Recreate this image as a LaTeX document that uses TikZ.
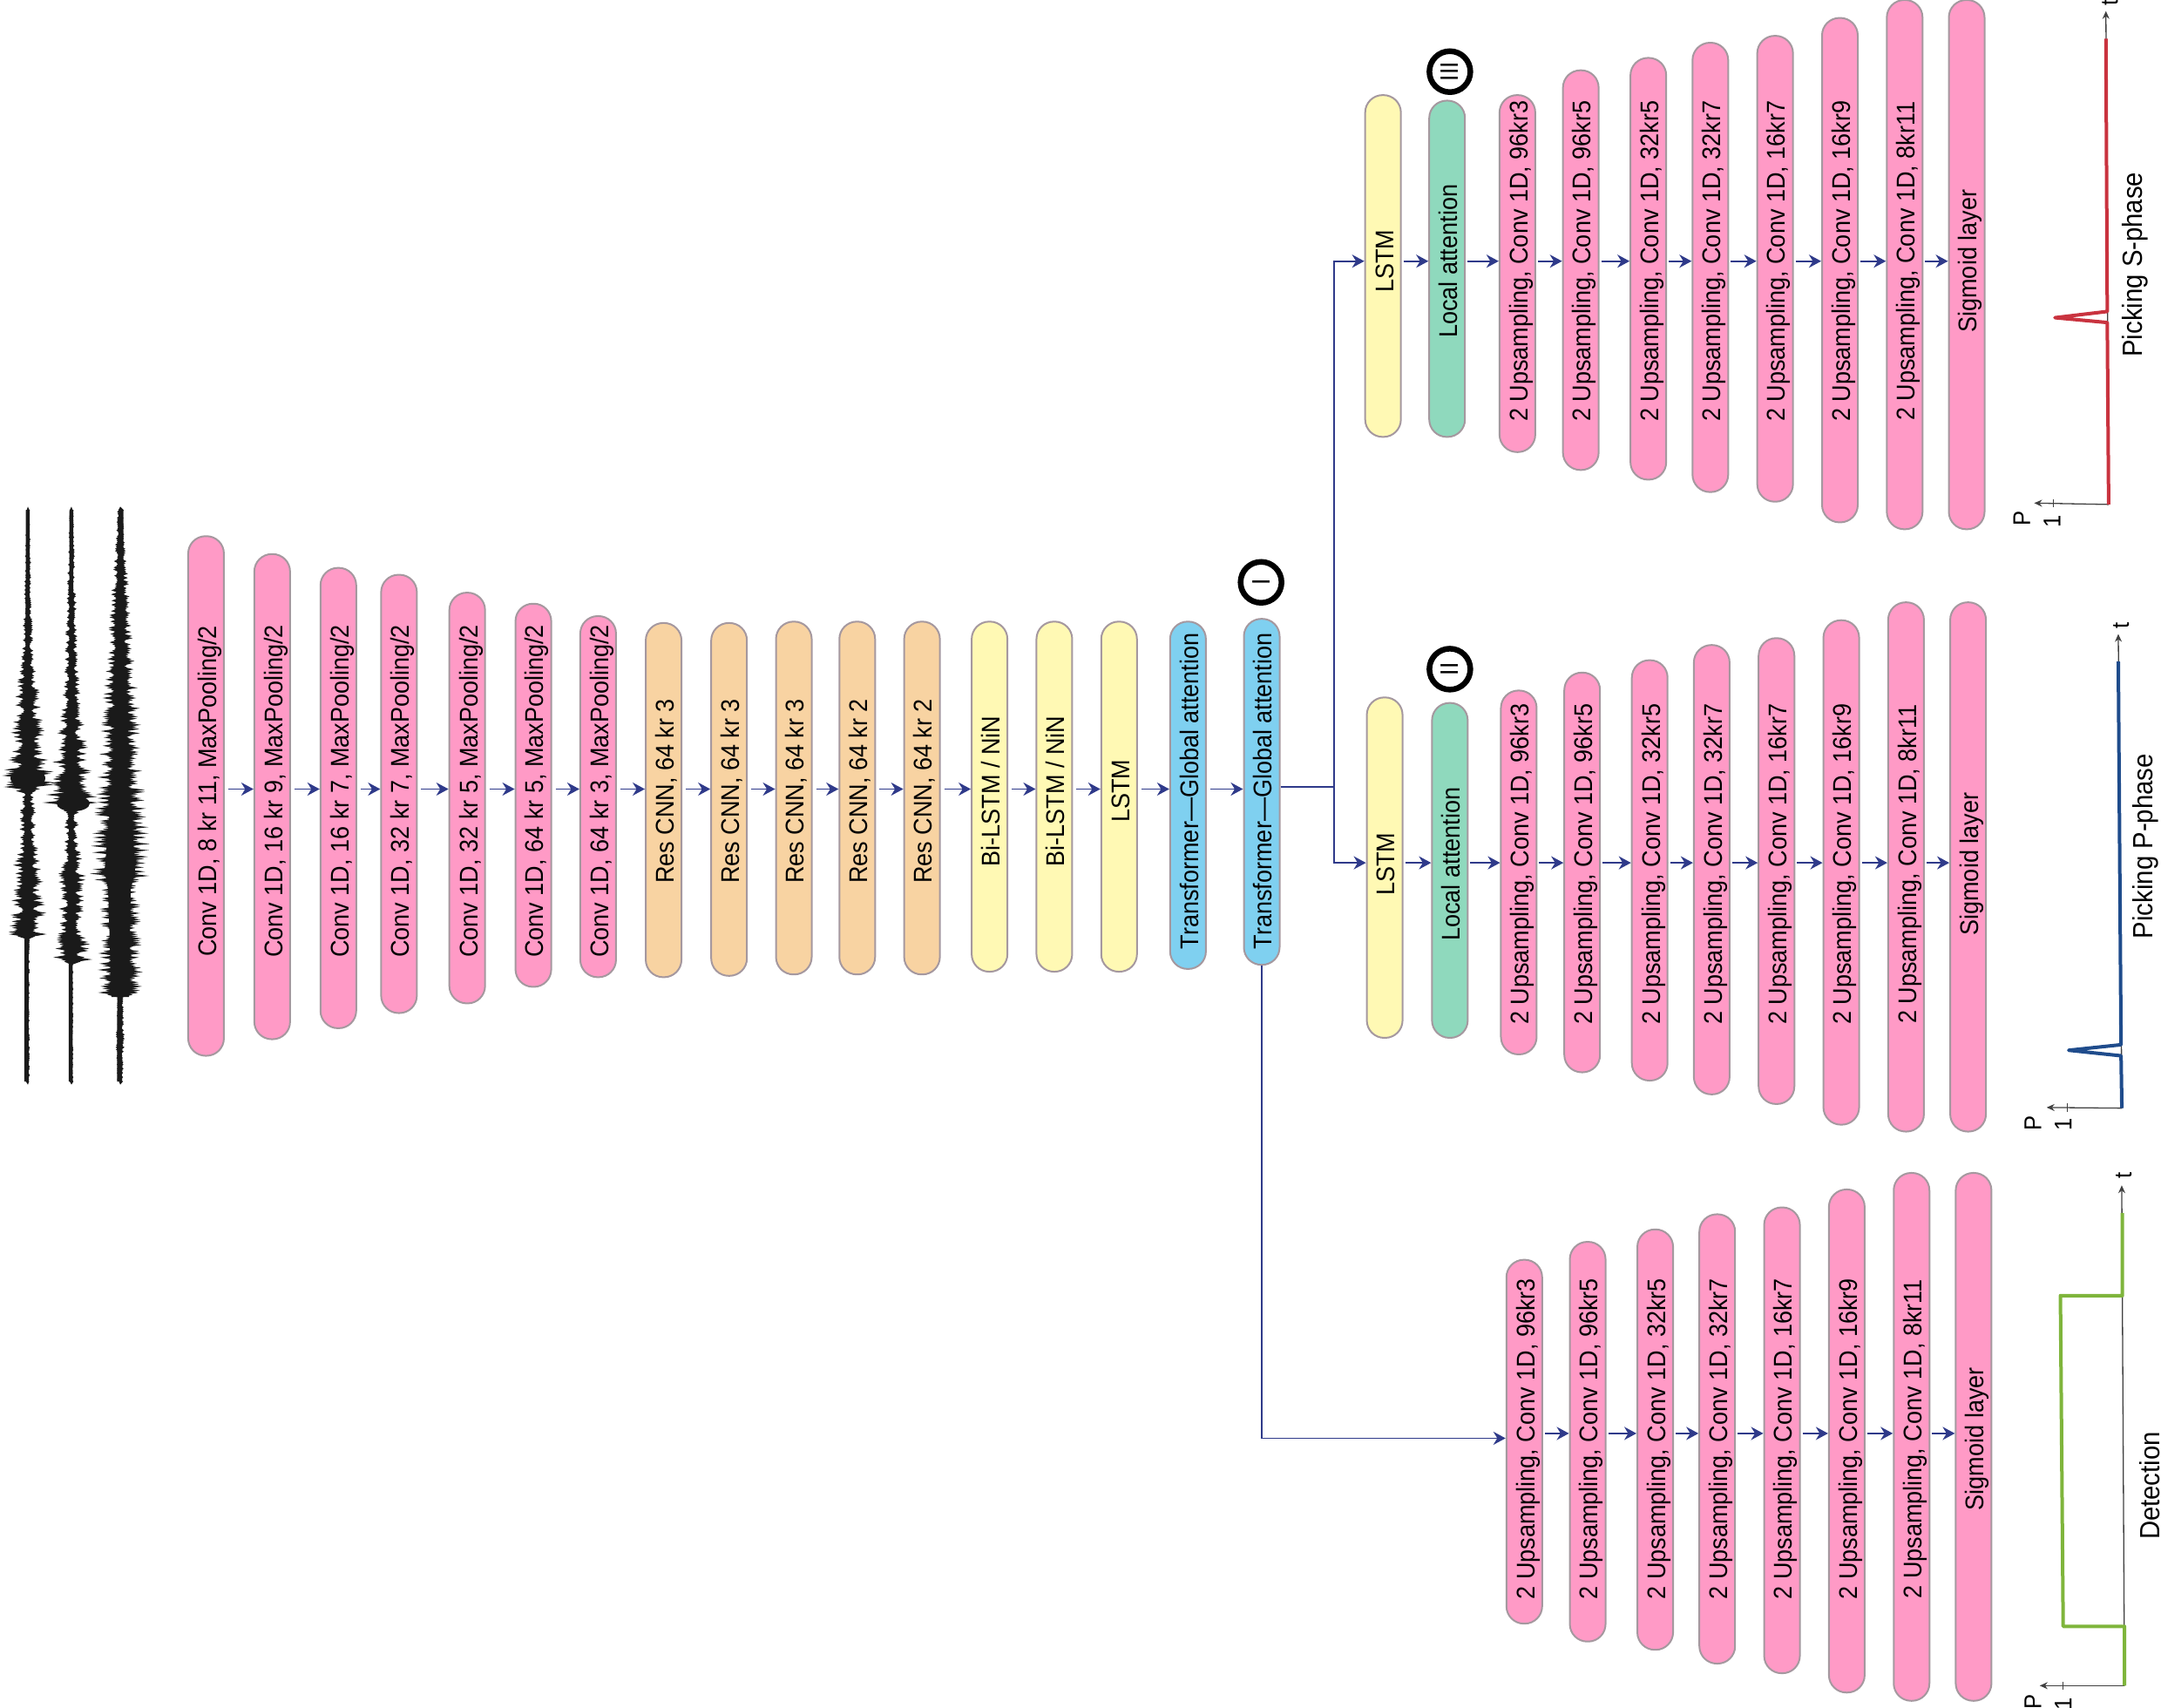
\documentclass[tikz,border=0pt]{standalone}
\usepackage{fontspec}
\setmainfont{Liberation Sans}[FakeStretch=0.92]
\usetikzlibrary{arrows.meta,calc}
\definecolor{cpink}{HTML}{FF9AC6}
\definecolor{corange}{HTML}{F8D3A2}
\definecolor{cyellow}{HTML}{FFF9B4}
\definecolor{cblue}{HTML}{7FD0F0}
\definecolor{cgreen}{HTML}{8FD9BD}
\definecolor{cborder}{HTML}{A5989F}
\definecolor{cconn}{HTML}{2F3A8A}
\definecolor{cgrn}{HTML}{7FB53C}
\definecolor{cblu}{HTML}{1F4C8C}
\definecolor{cred}{HTML}{C9333F}
\definecolor{cwave}{HTML}{1A1A1A}
\tikzset{
  capsulebox/.style={draw=cborder,line width=2bp,rounded corners=20bp,minimum width=41bp,inner sep=0pt,rectangle},
  capsuletext/.style={rotate=90,inner sep=0pt,text height=20.9bp,text depth=6.1bp,font=\fontsize{29.5}{32}\selectfont},
  conn/.style={draw=cconn,line width=1.9bp,-{Stealth[length=14bp,width=15bp,inset=4.5bp]}},
  connplain/.style={draw=cconn,line width=1.9bp},
  tag/.style={circle,draw=black,line width=6.5bp,minimum size=47bp,inner sep=0pt,fill=white},
  tagtext/.style={rotate=90,font=\fontsize{29}{32}\selectfont,inner sep=0pt},
  plotaxis/.style={draw=black!75,line width=1.3bp,-{Stealth[length=9bp,width=8bp]}},
  plotlabel/.style={rotate=90,inner sep=0pt,font=\fontsize{32}{36}\selectfont},
  axislabel/.style={rotate=90,inner sep=0pt,font=\fontsize{28}{30}\selectfont},
  plotcurve/.style={line width=4bp,line join=round},
}
\newcommand\capsule[7]{%
  \pgfmathsetmacro\hh{(#4-#3)*1.5816}%
  \node[capsulebox,fill=#5,minimum height=\hh bp] (#1) at (#2,{(#3+#4)/2}) {};
  \node[capsuletext] (#1-t) at (#2+2.8,#6) {#7};
}
\newcommand\wave[3]{%
  \foreach \ya/\wa/\yb/\wb in {#3} {
    \pgfmathtruncatemacro\nn{max(1,round((\yb-\ya)/2.4))}
    \foreach \ii in {0,...,\nn} {
      \pgfmathsetmacro\ff{\ii/\nn}
      \pgfmathsetmacro\yy{\ya+(\yb-\ya)*\ff}
      \pgfmathsetmacro\ww{1.2*(\wa+(\wb-\wa)*\ff)}
      \pgfmathsetmacro\wl{\ww*(#2+(1-#2)*rnd)}
      \pgfmathsetmacro\wr{\ww*(#2+(1-#2)*rnd)}
      \fill[cwave] ({#1-\wl},\yy) -- (#1,\yy-3.6) -- ({#1+\wr},\yy) -- (#1,\yy+3.6) -- cycle;
    }
  }
}
\begin{document}
\begin{tikzpicture}[x=1.5816bp,y=-1.5816bp]
\useasboundingbox (0,0) rectangle (1568,1238.65);
\pgfmathsetseed{4242}
% waveforms (drawn in image pixels)
\begin{scope}[x=1bp,y=-1bp]
\draw[cwave,line width=4.5bp] (32,585) -- (30,1241);
\draw[cwave,line width=4.5bp] (82,585) -- (81,1241);
\draw[cwave,line width=5.5bp] (139,585) -- (137,1241);
\fill[cwave] (32,893) ellipse [x radius=20bp,y radius=11bp];
\fill[cwave] (84,922) ellipse [x radius=19bp,y radius=9bp];
\fill[cwave] (139,860) -- (151,930) -- (155,1000) -- (150,1020) -- (148,1144) -- (128,1144) -- (124,1020) -- (120,1000) -- (126,930) -- cycle;
\wave{32}{0.3}{585/2/694/4,694/4/761/7,761/7/792/12,792/12/836/16,836/16/872/20,872/20/890/26,890/26/903/26,903/26/910/5,910/5/930/8,930/8/961/8,961/8/988/14,988/14/1050/18,1050/18/1072/20,1072/20/1077/2,1077/2/1241/2}
\wave{82}{0.3}{585/2/694/5,694/5/783/8,783/8/827/12,827/12/872/18,872/18/894/20,894/20/912/25,912/25/921/28,921/28/930/8,930/8/961/7,961/7/1005/14,1005/14/1050/12,1050/12/1081/18,1081/18/1101/22,1101/22/1106/2,1106/2/1241/2}
\wave{138}{0.4}{585/3/625/5,625/5/694/10,694/10/761/14,761/14/801/18,801/18/827/20,827/20/863/20,863/20/916/25,916/25/961/28,961/28/988/30,988/30/1005/30,1005/30/1014/20,1014/20/1094/22,1094/22/1139/22,1139/22/1144/3,1144/3/1192/5,1192/5/1241/3}
\end{scope}
% encoder
\foreach \pn/\px/\pa/\pb/\pc/\pl in {
 e1/149.5/389/766/cpink/{Conv 1D, 8 kr 11, MaxPooling/2},
 e2/197.5/402/754/cpink/{Conv 1D, 16 kr 9, MaxPooling/2},
 e3/245.5/412/746/cpink/{Conv 1D, 16 kr 7, MaxPooling/2},
 e4/289.5/417/735/cpink/{Conv 1D, 32 kr 7, MaxPooling/2},
 e5/339/430/728/cpink/{Conv 1D, 32 kr 5, MaxPooling/2},
 e6/387/438/716/cpink/{Conv 1D, 64 kr 5, MaxPooling/2},
 e7/434/447/709/cpink/{Conv 1D, 64 kr 3, MaxPooling/2},
 e8/481.5/452/709/corange/{Res CNN, 64 kr 3},
 e9/529/452/708/corange/{Res CNN, 64 kr 3},
 e10/576/451/707/corange/{Res CNN, 64 kr 3},
 e11/622/451/707/corange/{Res CNN, 64 kr 2},
 e12/669/451/707/corange/{Res CNN, 64 kr 2},
 e13/718/451/705/cyellow/{Bi-LSTM / NiN},
 e14/765/451/705/cyellow/{Bi-LSTM / NiN},
 e15/812/451/705/cyellow/{LSTM},
 e16/862/451/703/cblue/{Transformer—Global attention},
 e17/915.5/449/700/cblue/{Transformer—Global attention}} {
  \capsule{\pn}{\px}{\pa}{\pb}{\pc}{574}{\pl}
}
\coordinate (erow) at (0,572.5);
\foreach \ca/\cb in {e1/e2,e2/e3,e3/e4,e4/e5,e5/e6,e6/e7,e7/e8,e8/e9,e9/e10,e10/e11,e11/e12,e12/e13,e13/e14,e14/e15,e15/e16,e16/e17} {
  \draw[conn,shorten <=4bp] (\ca.east |- erow) -- (\cb.west |- erow);
}
% top branch
\foreach \pn/\px/\pa/\pb/\pc/\pl in {
 sL/1003.5/69/317/cyellow/{LSTM},
 sA/1050/73/317/cgreen/{Local attention},
 s1/1101/69/328/cpink/{2 Upsampling, Conv 1D, 96kr3},
 s2/1147/51/341/cpink/{2 Upsampling, Conv 1D, 96kr5},
 s3/1196/42/348/cpink/{2 Upsampling, Conv 1D, 32kr5},
 s4/1241/31/357/cpink/{2 Upsampling, Conv 1D, 32kr7},
 s5/1288/26/364/cpink/{2 Upsampling, Conv 1D, 16kr7},
 s6/1335/13/379/cpink/{2 Upsampling, Conv 1D, 16kr9},
 s7/1382/0/384/cpink/{2 Upsampling, Conv 1D, 8kr11},
 s8/1427/0/384/cpink/{Sigmoid layer}} {
  \capsule{\pn}{\px}{\pa}{\pb}{\pc}{189.5}{\pl}
}
\coordinate (srow) at (0,189.5);
\foreach \ca/\cb in {sL/sA,sA/s1,s1/s2,s2/s3,s3/s4,s4/s5,s5/s6,s6/s7,s7/s8} {
  \draw[conn,shorten <=2bp] (\ca.east |- srow) -- (\cb.west |- srow);
}
% middle branch
\foreach \pn/\px/\pa/\pb/\pc/\pl in {
 pL/1004.7/506/753/cyellow/{LSTM},
 pA/1052/510/753/cgreen/{Local attention},
 p1/1102/501/765/cpink/{2 Upsampling, Conv 1D, 96kr3},
 p2/1148/488/778/cpink/{2 Upsampling, Conv 1D, 96kr5},
 p3/1197/479/784/cpink/{2 Upsampling, Conv 1D, 32kr5},
 p4/1242/468/794/cpink/{2 Upsampling, Conv 1D, 32kr7},
 p5/1289/463/801/cpink/{2 Upsampling, Conv 1D, 16kr7},
 p6/1336/450/816/cpink/{2 Upsampling, Conv 1D, 16kr9},
 p7/1383/437/821/cpink/{2 Upsampling, Conv 1D, 8kr11},
 p8/1428/437/821/cpink/{Sigmoid layer}} {
  \capsule{\pn}{\px}{\pa}{\pb}{\pc}{627}{\pl}
}
\coordinate (prow) at (0,626);
\foreach \ca/\cb in {pL/pA,pA/p1,p1/p2,p2/p3,p3/p4,p4/p5,p5/p6,p6/p7,p7/p8} {
  \draw[conn,shorten <=2bp] (\ca.east |- prow) -- (\cb.west |- prow);
}
% bottom branch
\foreach \pn/\px/\pa/\pb/\pc/\pl in {
 d1/1106/914/1178/cpink/{2 Upsampling, Conv 1D, 96kr3},
 d2/1152/901/1191/cpink/{2 Upsampling, Conv 1D, 96kr5},
 d3/1201/892/1197/cpink/{2 Upsampling, Conv 1D, 32kr5},
 d4/1246/881/1207/cpink/{2 Upsampling, Conv 1D, 32kr7},
 d5/1293/876/1214/cpink/{2 Upsampling, Conv 1D, 16kr7},
 d6/1340/863/1228/cpink/{2 Upsampling, Conv 1D, 16kr9},
 d7/1387/851/1234/cpink/{2 Upsampling, Conv 1D, 8kr11},
 d8/1432/851/1234/cpink/{Sigmoid layer}} {
  \capsule{\pn}{\px}{\pa}{\pb}{\pc}{1044}{\pl}
}
\coordinate (drow) at (0,1040);
\foreach \ca/\cb in {d1/d2,d2/d3,d3/d4,d4/d5,d5/d6,d6/d7,d7/d8} {
  \draw[conn,shorten <=2bp] (\ca.east |- drow) -- (\cb.west |- drow);
}
% trunk connectors
\coordinate (jm) at (968,571);
\coordinate (jt) at (968,189.5);
\coordinate (jb) at (968,626);
\coordinate (brow) at (0,1043.5);
\draw[connplain] (e17.east |- jm) -- (jm);
\draw[conn] (jm) -- (jt) -- (sL.west |- jt);
\draw[conn] (jm) -- (jb) -- (pL.west |- jb);
\draw[conn] (e17.south) -- (e17.south |- brow) -- (d1.west |- brow);
% circled tags
\node[tag] (tagI) at (915,422.5) {};
\node[tagtext] (tagIt) at (915,422.5) {I};
\node[tag] (tagII) at (1052,485.5) {};
\node[tagtext] (tagIIt) at (1052,485.5) {II};
\node[tag] (tagIII) at (1052,52) {};
\node[tagtext] (tagIIIt) at (1052,52) {III};
% S plot
\coordinate (so) at (1530,366);
\draw[plotaxis] (so) -- (1528,8);
\draw[plotaxis] (so) -- (1476,365);
\draw[draw=black!75,line width=1.2bp] (1490,362.5) -- (1490,368);
\draw[cred,plotcurve] (so) -- (1529,234) -- (1491,230.5) -- (1529,226) -- (1528,28);
\node[axislabel] (sP) at (1467,376) {P};
\node[axislabel] (s1l) at (1489,378) {1};
\node[axislabel] (st) at (1531,2) {t};
\node[plotlabel] (stitle) at (1549,192) {Picking S-phase};
% P plot
\coordinate (po) at (1539.6,804);
\draw[plotaxis] (po) -- (1537,460);
\draw[plotaxis] (po) -- (1485,803.5);
\draw[draw=black!75,line width=1.2bp] (1500,800.5) -- (1500,806.5);
\draw[cblu,plotcurve] (po) -- (1539,766) -- (1501,762) -- (1539,758) -- (1537,480);
\node[axislabel] (pP) at (1475,815) {P};
\node[axislabel] (p1l) at (1497,816) {1};
\node[axislabel] (pt) at (1539,454) {t};
\node[plotlabel] (ptitle) at (1557,614) {Picking P-phase};
% Detection plot
\coordinate (do) at (1541.5,1223);
\draw[plotaxis] (do) -- (1539.5,860);
\draw[plotaxis] (do) -- (1480,1223);
\draw[draw=black!75,line width=1.2bp] (1497,1220) -- (1497,1226);
\draw[cgrn,plotcurve] (do) -- (1541.5,1180) -- (1497,1180) -- (1495,940) -- (1540,940) -- (1540,880);
\node[axislabel] (dP) at (1475,1235) {P};
\node[axislabel] (d1l) at (1497,1236) {1};
\node[axislabel] (dt) at (1541,853) {t};
\node[plotlabel] (dtitle) at (1560,1078) {Detection};
\end{tikzpicture}
\end{document}
